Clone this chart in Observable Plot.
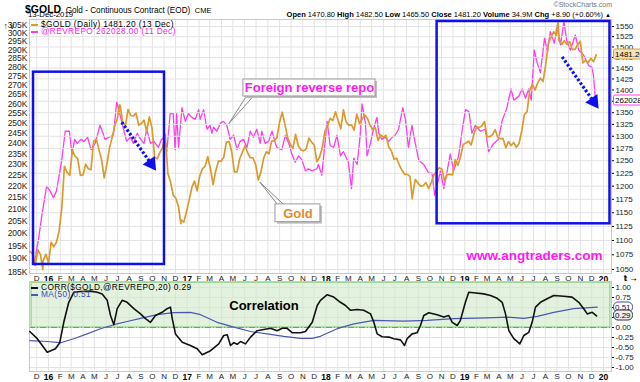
<!DOCTYPE html>
<html><head><meta charset="utf-8">
<script src="https://cdn.jsdelivr.net/npm/d3@7"></script>
<script src="https://cdn.jsdelivr.net/npm/@observablehq/plot@0.6"></script>
<style>
body{margin:0;background:#fff;}
#wrap{position:relative;width:640px;height:382px;overflow:hidden;font-family:"Liberation Sans",Arial,sans-serif;color:#000;background:#fff;}
.abs{position:absolute;white-space:nowrap;line-height:1;}
#wrap svg{position:absolute;left:0;overflow:visible;background:transparent;}
.tag{position:absolute;left:613px;font-size:8px;line-height:9px;padding:0 1px;border:1px solid;border-radius:2px;white-space:nowrap;transform:translateY(-50%);}
</style></head><body><div id="wrap"></div>
<script>
// ---------------- DATA ----------------
// Gold continuous contract, weekly closes (Fridays) starting 2015-11-13
const goldStart = "2015-11-13";
const gold2015 = [1081,1077,1057,1084,1075,1065,1076,1061];
const gold2016 = [1097,1089,1097,1117,1158,1239,1227,1221,1271,1259,1254,1221,1222,1243,1234,1232,1290,1294,1273,1252,1216,1243,1276,1298,1322,1339,1366,1328,1323,1357,1344,1343,1349,1323,1327,1334,1310,1341,1317,1257,1254,1267,1276,1304,1224,1208,1183,1177,1161,1137,1133,1152];
const gold2017 = [1173,1197,1210,1191,1220,1234,1239,1258,1234,1203,1230,1249,1249,1257,1288,1289,1268,1228,1228,1254,1267,1280,1266,1256,1256,1242,1212,1228,1255,1268,1264,1290,1291,1297,1330,1351,1325,1297,1284,1275,1304,1281,1272,1270,1274,1296,1288,1282,1248,1257,1275,1309];
const gold2018 = [1322,1338,1333,1352,1333,1316,1356,1330,1323,1324,1313,1347,1327,1336,1345,1338,1323,1314,1318,1291,1303,1298,1302,1278,1270,1253,1255,1241,1231,1223,1223,1219,1184,1213,1206,1200,1201,1207,1196,1207,1222,1229,1236,1233,1210,1223,1223,1222,1252,1241,1258,1283];
const gold2019 = [1286,1290,1282,1304,1320,1318,1322,1331,1299,1299,1303,1314,1298,1295,1295,1276,1289,1281,1287,1277,1285,1311,1346,1352,1399,1413,1400,1416,1427,1419,1457,1509,1523,1537,1529,1515,1506,1515,1506,1513,1494,1494,1505,1514,1462,1468,1463,1473,1465,1481.2];
const goldExtremes = [["2015-12-17",1050],["2016-07-06",1367],["2016-12-15",1130],["2018-08-16",1176],["2019-09-04",1560]];

// Foreign official reverse repo (thousands of $M)
const repo = [
["2015-11-25",189],["2015-12-05",197],["2015-12-15",208],["2015-12-27",220],["2016-01-05",218],["2016-01-14",215],["2016-01-22",218],["2016-02-05",232],["2016-02-14",246],["2016-02-25",246],["2016-03-03",235],["2016-03-10",242],["2016-03-17",240],["2016-03-26",242],["2016-04-04",241],["2016-04-13",243],["2016-04-22",237],["2016-05-03",240],["2016-05-16",249],["2016-05-29",242],["2016-06-08",243],["2016-06-20",244],["2016-06-29",261],["2016-07-12",251],["2016-07-25",241],["2016-08-04",243],["2016-08-12",240],["2016-08-22",245],["2016-08-31",242],["2016-09-09",240],["2016-09-16",247],["2016-09-26",240],["2016-10-05",241],["2016-10-17",238],["2016-10-25",242],["2016-11-03",243],["2016-11-08",236],["2016-11-17",255],["2016-11-25",255],["2016-11-30",237],["2016-12-04",255],["2016-12-09",238],["2016-12-18",258],["2016-12-27",251],
["2017-01-04",255],["2017-01-13",253],["2017-01-22",252],["2017-01-31",257],["2017-02-04",252],["2017-02-13",257],["2017-02-22",247],["2017-03-02",249],["2017-03-07",245],["2017-03-11",248],["2017-03-20",246],["2017-03-29",250],["2017-04-06",251],["2017-04-15",249],["2017-04-24",242],["2017-05-03",244],["2017-05-12",237],["2017-05-20",241],["2017-05-29",242],["2017-06-07",238],["2017-06-16",246],["2017-06-24",243],["2017-07-03",247],["2017-07-12",240],["2017-07-16",246],["2017-07-25",240],["2017-08-03",241],["2017-08-12",246],["2017-08-21",240],["2017-08-25",238],["2017-09-07",237],["2017-09-16",244],["2017-09-25",240],["2017-10-03",235],["2017-10-12",231],["2017-10-21",234],["2017-10-30",232],["2017-11-08",227],["2017-11-16",228],["2017-11-25",227],["2017-12-08",228],["2017-12-12",230],["2017-12-21",225],
["2018-01-04",251],["2018-01-12",239],["2018-01-21",238],["2018-01-30",244],["2018-02-08",234],["2018-02-16",236],["2018-03-01",231],["2018-03-09",219],["2018-03-15",233],["2018-03-24",230],["2018-04-01",244],["2018-04-06",260],["2018-04-15",250],["2018-04-19",234],["2018-04-28",240],["2018-05-06",247],["2018-05-15",253],["2018-05-20",245],["2018-05-28",242],["2018-06-06",243],["2018-06-15",241],["2018-06-24",243],["2018-07-02",244],["2018-07-11",247],["2018-07-22",258],["2018-07-29",252],["2018-08-06",238],["2018-08-15",249],["2018-08-24",240],["2018-09-02",232],["2018-09-15",230],["2018-09-28",226],["2018-10-07",226],["2018-10-14",216],["2018-10-20",220],["2018-10-29",227],["2018-11-07",219],["2018-11-16",227],["2018-11-24",235],["2018-12-03",227],["2018-12-16",234],["2018-12-25",246],
["2019-01-03",257],["2019-01-12",256],["2019-01-20",245],["2019-01-29",249],["2019-02-11",246],["2019-02-24",247],["2019-03-05",236],["2019-03-18",240],["2019-03-31",242],["2019-04-09",251],["2019-04-22",258],["2019-05-03",268],["2019-05-10",262],["2019-05-23",264],["2019-06-01",268],["2019-06-10",263],["2019-06-18",268],["2019-06-25",262],["2019-07-03",290],["2019-07-10",283],["2019-07-19",277],["2019-07-30",297],["2019-08-07",289],["2019-08-14",301],["2019-08-25",294],["2019-09-01",305],["2019-09-10",293],["2019-09-19",307],["2019-09-27",295],["2019-10-06",290],["2019-10-19",299],["2019-10-28",290],["2019-11-10",287],["2019-11-23",281],["2019-12-02",280],["2019-12-06",275],["2019-12-11",262.028]];

// 20-day correlation (decimal year, value)
const corr = [[2015.865,-0.10],[2015.919,-0.28],[2015.991,-0.62],[2016.050,-0.53],[2016.081,-0.38],[2016.110,0.13],[2016.146,0.63],[2016.182,0.88],[2016.231,0.90],[2016.303,0.91],[2016.351,0.88],[2016.387,0.84],[2016.423,0.68],[2016.447,0.30],[2016.471,0.07],[2016.495,0.47],[2016.531,0.68],[2016.567,0.63],[2016.615,0.47],[2016.663,0.34],[2016.699,0.22],[2016.735,0.13],[2016.771,0.30],[2016.819,0.38],[2016.855,0.47],[2016.879,0.51],[2016.892,0.22],[2016.915,-0.16],[2016.964,-0.37],[2017.023,-0.45],[2017.072,-0.53],[2017.108,-0.68],[2017.168,-0.58],[2017.227,-0.41],[2017.263,-0.20],[2017.288,-0.18],[2017.312,-0.45],[2017.336,-0.38],[2017.360,-0.42],[2017.384,-0.35],[2017.420,-0.41],[2017.456,-0.24],[2017.504,-0.08],[2017.552,-0.05],[2017.600,-0.02],[2017.648,-0.08],[2017.684,-0.02],[2017.720,-0.02],[2017.756,-0.13],[2017.816,-0.13],[2017.852,-0.10],[2017.901,0.13],[2017.937,0.55],[2017.960,0.68],[2018.009,0.82],[2018.056,0.76],[2018.104,0.63],[2018.141,0.55],[2018.177,0.43],[2018.225,0.45],[2018.272,0.43],[2018.321,0.34],[2018.345,0.13],[2018.369,-0.16],[2018.405,-0.23],[2018.453,-0.24],[2018.489,-0.28],[2018.537,-0.31],[2018.566,-0.45],[2018.585,-0.28],[2018.621,-0.16],[2018.657,-0.13],[2018.681,0.05],[2018.705,0.30],[2018.741,0.37],[2018.801,0.32],[2018.849,0.26],[2018.885,0.30],[2018.910,0.13],[2018.946,0.05],[2018.969,0.18],[2019.005,0.63],[2019.029,0.88],[2019.065,0.87],[2019.137,0.84],[2019.186,0.80],[2019.234,0.73],[2019.270,0.63],[2019.294,0.34],[2019.318,-0.08],[2019.354,-0.28],[2019.397,-0.41],[2019.426,-0.20],[2019.462,-0.12],[2019.486,0.13],[2019.510,0.51],[2019.546,0.63],[2019.594,0.72],[2019.642,0.80],[2019.714,0.78],[2019.774,0.76],[2019.822,0.63],[2019.858,0.47],[2019.883,0.34],[2019.919,0.38],[2019.950,0.29]];

// 50-day moving average of the correlation
const corrMA = [[2015.865,-0.33],[2015.991,-0.35],[2016.087,-0.38],[2016.182,-0.28],[2016.278,-0.16],[2016.375,-0.03],[2016.471,0.07],[2016.567,0.15],[2016.663,0.23],[2016.783,0.32],[2016.903,0.37],[2017.023,0.38],[2017.096,0.32],[2017.215,0.13],[2017.336,0.01],[2017.456,-0.10],[2017.576,-0.16],[2017.696,-0.22],[2017.816,-0.27],[2017.901,-0.27],[2017.960,-0.22],[2018.081,-0.03],[2018.201,0.09],[2018.345,0.18],[2018.561,0.16],[2018.729,0.18],[2018.922,0.22],[2019.162,0.24],[2019.306,0.26],[2019.426,0.23],[2019.522,0.28],[2019.642,0.38],[2019.786,0.47],[2019.955,0.51]];

// Axis ticks
const goldTicks = d3.range(1050, 1551, 25);
const repoTicks = d3.range(185, 306, 5);
const corrTicks = d3.range(-1, 1.001, 0.25);
const monthLetters = ["J","F","M","A","M","J","J","A","S","O","N","D"];

// Annotations (in data units: decimal year, gold price / correlation)
const boxes = [{x1:2015.892,x2:2016.836,y1:1440.6,y2:1058.5},{x1:2018.801,x2:2020.047,y1:1562.5,y2:1129.8}];
const arrows = [{x1:2016.528,y1:1329.6,x2:2016.740,y2:1243.9},{x1:2019.702,y1:1476.5,x2:2019.930,y2:1373.8}];
const callouts = [
  {text:"Foreign reverse repo", color:"#ff19f0", x1:2017.405, x2:2018.357, y1:1423.8, y2:1385.6, tx:2017.881, ty:1404.5,
   px:2017.299, py:1326.2, a1:2017.425, a2:2017.475, ay:1385.6},
  {text:"Gold", color:"#e08a2c", x1:2017.636, x2:2017.960, y1:1165.5, y2:1132.8, tx:2017.798, ty:1148.6,
   px:2017.523, py:1207.8, a1:2017.650, a2:2017.694, ay:1165.5}
];
const watermark = {text:"www.angtraders.com", x:2019.503, y:1073.9};
const corrLabel = {text:"Correlation", x:2017.553, y:0.53};
const corrBand = [0, 1.12];

// ---------------- HELPERS ----------------
function decYear(d){const y=d.getUTCFullYear();const a=Date.UTC(y,0,1),b=Date.UTC(y+1,0,1);return y+(d-a)/(b-a);}
const DAY = 864e5;
const goldWeekly = [...gold2015,...gold2016,...gold2017,...gold2018,...gold2019];
const t0 = new Date(goldStart).getTime();
const goldData = goldWeekly.map((v,i)=>({t:decYear(new Date(t0+7*i*DAY)),v}))
  .concat(goldExtremes.map(([d,v])=>({t:decYear(new Date(d)),v})))
  .sort((a,b)=>a.t-b.t);
const repoData = repo.map(([d,v])=>({t:decYear(new Date(d)),v}));
const corrData = corr.map(([t,v])=>({t,v}));
const maData = corrMA.map(([t,v])=>({t,v}));

const months = [];
for (let y=2015;y<=2020;y++) for (let m=0;m<12;m++){
  const d=new Date(Date.UTC(y,m,1));
  if (d>=new Date("2015-12-01") && d<=new Date("2020-01-01")) months.push({t:decYear(d),m,y});
}
const labelMap = new Map(months.map(d=>[d.t, d.m===0 ? String(d.y).slice(2) : monthLetters[d.m]]));
const monthT = months.map(d=>d.t);
const janT = months.filter(d=>d.m===0).map(d=>d.t);
const otherT = months.filter(d=>d.m!==0).map(d=>d.t);

const X = {type:"linear", domain:[2015.863, 2020.058]};
const FONT = "Liberation Sans, Arial, sans-serif";
const GRID = "#e3e3e3";
const wrap = document.getElementById("wrap");

function xLabels(){
  return [
    Plot.axisX({ticks:otherT, tickFormat:t=>labelMap.get(t), tickSize:0, tickPadding:2, fontSize:8, fill:"#222"}),
    Plot.axisX({ticks:janT, tickFormat:t=>labelMap.get(t), tickSize:0, tickPadding:2, fontSize:8.5, fontWeight:"bold", fill:"#000"})
  ];
}
function place(svg, top){ svg.style.top = top+"px"; wrap.appendChild(svg); return svg; }

// ---------------- TOP PANEL: repo (under) ----------------
const topCommon = {width:640, height:264, marginLeft:29, marginRight:29, marginTop:0, marginBottom:10,
  style:{fontFamily:FONT, background:"transparent", overflow:"visible"}};
const repoPlot = Plot.plot({...topCommon, x:X,
  y:{type:"log", domain:[184.4, 308.5]},
  marks:[
    Plot.gridX(monthT, {stroke:GRID, strokeOpacity:1}),
    Plot.frame({stroke:"#c9c9c9"}),
    Plot.axisY({anchor:"left", ticks:repoTicks, tickFormat:d=>d+"K", tickSize:0, tickPadding:2, fontSize:8.5, fill:"#222"}),
    ...xLabels(),
    Plot.line(repoData, {x:"t", y:"v", stroke:"#ff3cf0", strokeWidth:1.3})
  ]});
place(repoPlot, 19);

// ---------------- TOP PANEL: gold (over) ----------------
const goldPlot = Plot.plot({...topCommon, x:{...X, axis:null},
  y:{type:"log", domain:[1043.3, 1567.5]},
  marks:[
    Plot.gridY(goldTicks, {stroke:GRID, strokeOpacity:1}),
    Plot.axisY({anchor:"right", ticks:goldTicks, tickFormat:d=>String(d), tickSize:2, tickPadding:2, fontSize:8, fill:"#222"}),
    Plot.line(goldData, {x:"t", y:"v", stroke:"#dc9a2c", strokeWidth:1.7}),
    Plot.rect(boxes, {x1:"x1", x2:"x2", y1:"y1", y2:"y2", fill:"none", stroke:"#1010ee", strokeWidth:2.5}),
    Plot.link(arrows, {x1:"x1", y1:"y1", x2:"x2", y2:"y2", stroke:"#1010ee", strokeWidth:3.2, strokeDasharray:"2.5,2"}),
    Plot.dot(arrows, {x:"x2", y:"y2", symbol:"triangle", r:5.5, fill:"#1010ee", stroke:"none", rotate:145}),
    // callouts
    Plot.link(callouts, {x1:"px", y1:"py", x2:"a1", y2:"ay", stroke:"#888", strokeWidth:1}),
    Plot.link(callouts, {x1:"px", y1:"py", x2:"a2", y2:"ay", stroke:"#888", strokeWidth:1}),
    Plot.rect(callouts, {x1:"x1", x2:"x2", y1:"y1", y2:"y2", fill:"#bdbdbd", dx:2, dy:2}),
    Plot.rect(callouts, {x1:"x1", x2:"x2", y1:"y1", y2:"y2", fill:"white", stroke:"#9a9a9a", strokeWidth:1}),
    Plot.text(callouts, {x:"tx", y:"ty", text:"text", fill:"color", fontSize:13, fontWeight:"bold", fontFamily:FONT}),
    Plot.text([watermark], {x:"x", y:"y", text:"text", fill:"#ff19f0", fontSize:13.5, fontWeight:"bold", fontFamily:FONT})
  ]});
place(goldPlot, 19);

// ---------------- BOTTOM PANEL: correlation ----------------
const corrPlot = Plot.plot({width:640, height:101, marginLeft:29, marginRight:29, marginTop:0, marginBottom:11, x:X,
  y:{domain:[-1.1, 1.15]},
  style:{fontFamily:FONT, background:"transparent", overflow:"visible"},
  marks:[
    Plot.gridX(monthT, {stroke:GRID, strokeOpacity:1}),
    Plot.gridY(corrTicks, {stroke:GRID, strokeOpacity:1}),
    Plot.rect([{}], {x1:2015.878, x2:2020.05, y1:corrBand[0], y2:corrBand[1], fill:"#cfe9c8", fillOpacity:0.6, stroke:"#9fd796", strokeWidth:1.5}),
    Plot.ruleY([0], {stroke:"#8a8a8a", strokeDasharray:"6,2,1,2"}),
    Plot.frame({stroke:"#c9c9c9"}),
    Plot.axisY({anchor:"right", ticks:corrTicks, tickFormat:d=>d.toFixed(2), tickSize:2, tickPadding:2, fontSize:8, fill:"#222"}),
    ...xLabels(),
    Plot.line(maData, {x:"t", y:"v", stroke:"#4a58b0", strokeWidth:1.2}),
    Plot.line(corrData, {x:"t", y:"v", stroke:"#111", strokeWidth:1.6}),
    Plot.text([corrLabel], {x:"x", y:"y", text:"text", fontSize:13, fontWeight:"bold", fontFamily:FONT, fill:"#000"})
  ]});
place(corrPlot, 281);

// ---------------- HTML TEXT ----------------
function div(html, css){const d=document.createElement("div");d.className="abs";d.innerHTML=html;Object.assign(d.style,css);wrap.appendChild(d);return d;}
div('<b style="font-size:10.5px">$GOLD</b> <span style="font-size:8.2px">Gold - Continuous Contract (EOD)</span> <span style="font-size:7.5px">CME</span>', {left:"25px", top:"0px"});
div('13-Dec-2019', {left:"28px", top:"11px", fontSize:"7.8px"});
div('©StockCharts.com', {right:"28px", top:"1px", fontSize:"7px", color:"#777"});
div('<b>Open</b> 1470.80 <b>High</b> 1482.50 <b>Low</b> 1465.50 <b>Close</b> 1481.20 <b>Volume</b> 34.9M <b>Chg</b> +8.90 (+0.60%) <span style="font-size:6px">&#9650;</span>', {right:"29px", top:"11px", fontSize:"7.5px"});

// legends
function legend(color, text, top, textColor){
  div('<span style="display:inline-block;width:7px;height:2px;background:'+color+';vertical-align:middle;margin-right:3px"></span><span style="color:'+textColor+'">'+text+'</span>', {left:"31px", top:top+"px", fontSize:"8.3px", letterSpacing:"0.4px"});
}
legend("#dc9a2c", "$GOLD (Daily) 1481.20 (13 Dec)", 20, "#000");
legend("#ff3cf0", "@REVREPO 262028.00 (11 Dec)", 27, "#ff19f0");
legend("#111", "CORR($GOLD,@REVREPO,20) 0.29", 283, "#000");
legend("#4a58b0", "MA(50) 0.51", 290, "#3a4aa8");

// value tags on right axes, positioned through the plots' scales
const gy = goldPlot.scale("y"), ry = repoPlot.scale("y"), cy = corrPlot.scale("y");
function tag(text, y, css){const d=document.createElement("div");d.className="tag";d.textContent=text;d.style.top=y+"px";Object.assign(d.style,css);wrap.appendChild(d);}
tag("1481.20", 19+gy.apply(1481.2), {background:"#f6e3b4", borderColor:"#d9a441", color:"#000"});
tag("262028.0", 19+ry.apply(262.028), {background:"#fff", borderColor:"#ff3cf0", color:"#000"});
tag("0.51", 281+cy.apply(0.51), {background:"#fff", borderColor:"#3a4aa8", color:"#223", borderRadius:"5px"});
tag("0.29", 281+cy.apply(0.29), {background:"#eee", borderColor:"#333", color:"#000", borderRadius:"5px"});
</script></body></html>
